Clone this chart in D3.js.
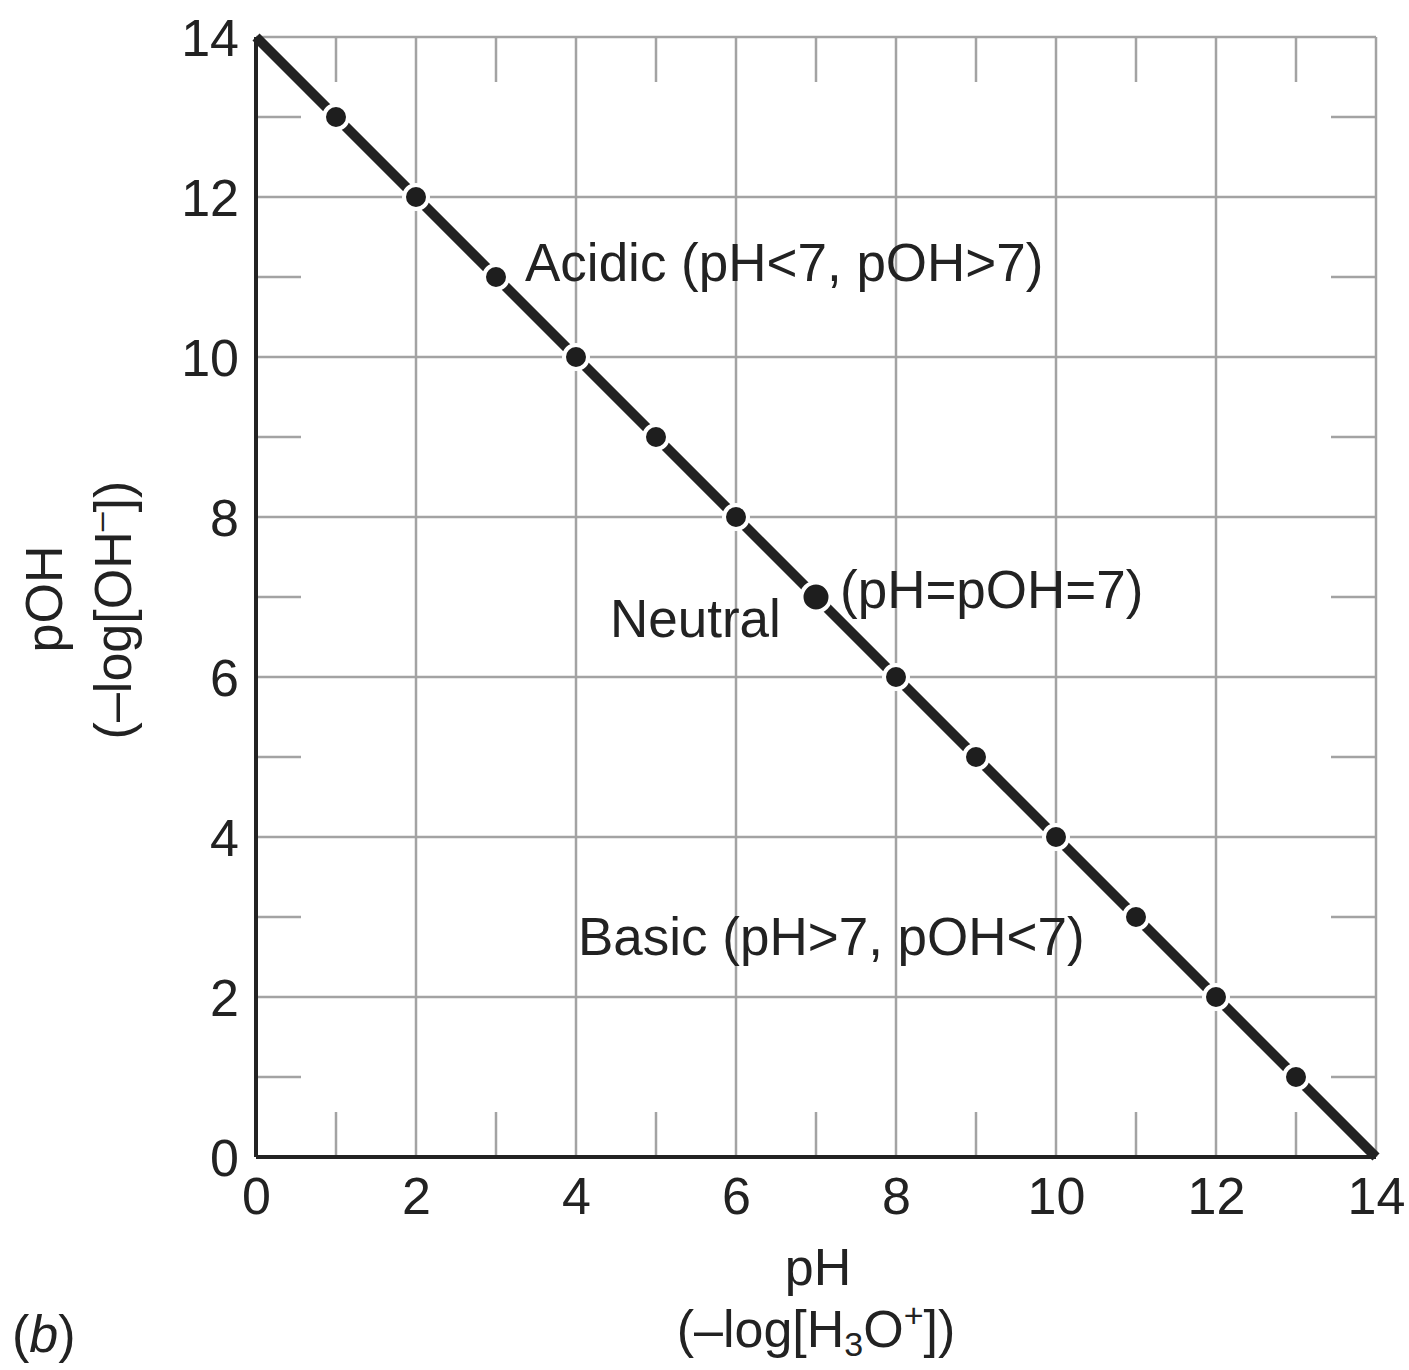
<!DOCTYPE html>
<html>
<head>
<meta charset="utf-8">
<script src="https://cdn.jsdelivr.net/npm/d3@7"></script>
<style>
  html, body { margin: 0; padding: 0; background: #fff; }
  svg { display: block; }
  text { font-family: "Liberation Sans", Arial, Helvetica, sans-serif; fill: #222; }
</style>
</head>
<body>
<svg id="chart" width="1409" height="1370"></svg>
<script>
// pH / pOH relationship
const phValues  = [0, 1, 2, 3, 4, 5, 6, 7, 8, 9, 10, 11, 12, 13, 14];
const pohValues = [14, 13, 12, 11, 10, 9, 8, 7, 6, 5, 4, 3, 2, 1, 0];
const dotPh     = [1, 2, 3, 4, 5, 6, 7, 8, 9, 10, 11, 12, 13];
const dotPoh    = [13, 12, 11, 10, 9, 8, 7, 6, 5, 4, 3, 2, 1];
const majorTicks = [0, 2, 4, 6, 8, 10, 12, 14];
const minorTicks = [1, 3, 5, 7, 9, 11, 13];
const neutralPh = 7;

const svg = d3.select('#chart');
const margin = {left: 256, top: 37, right: 33, bottom: 213};
const W = 1409 - margin.left - margin.right, H = 1370 - margin.top - margin.bottom;
const g = svg.append('g').attr('transform', `translate(${margin.left},${margin.top})`);

const x = d3.scaleLinear().domain([0, 14]).range([0, W]);
const y = d3.scaleLinear().domain([0, 14]).range([H, 0]);
const grid = '#a3a3a3';
const tickLen = 45;

// grid lines every 2 units
g.append('g').selectAll('line').data(majorTicks).enter().append('line')
  .attr('x1', d => x(d)).attr('x2', d => x(d)).attr('y1', 0).attr('y2', H)
  .attr('stroke', grid).attr('stroke-width', 2.5);
g.append('g').selectAll('line').data(majorTicks).enter().append('line')
  .attr('y1', d => y(d)).attr('y2', d => y(d)).attr('x1', 0).attr('x2', W)
  .attr('stroke', grid).attr('stroke-width', 2.5);

// short odd ticks on all four sides
const minor = g.append('g').attr('stroke', grid).attr('stroke-width', 2.5);
minorTicks.forEach(t => {
  minor.append('line').attr('x1', x(t)).attr('x2', x(t)).attr('y1', H).attr('y2', H - tickLen);
  minor.append('line').attr('x1', x(t)).attr('x2', x(t)).attr('y1', 0).attr('y2', tickLen);
  minor.append('line').attr('y1', y(t)).attr('y2', y(t)).attr('x1', 0).attr('x2', tickLen);
  minor.append('line').attr('y1', y(t)).attr('y2', y(t)).attr('x1', W).attr('x2', W - tickLen);
});

// left and bottom axes (black)
g.append('line').attr('x1', 0).attr('x2', 0).attr('y1', y(14)).attr('y2', y(0))
  .attr('stroke', '#222').attr('stroke-width', 4);
g.append('line').attr('x1', x(0)).attr('x2', x(14)).attr('y1', H).attr('y2', H)
  .attr('stroke', '#222').attr('stroke-width', 4);

// tick labels
const xAxis = g.append('g').attr('transform', `translate(0,${H})`)
  .call(d3.axisBottom(x).tickValues(majorTicks).tickSize(0).tickPadding(20).tickFormat(d3.format('d')));
const yAxis = g.append('g')
  .call(d3.axisLeft(y).tickValues(majorTicks).tickSize(0).tickPadding(17).tickFormat(d3.format('d')));
[xAxis, yAxis].forEach(a => {
  a.select('.domain').remove();
  a.selectAll('text').attr('font-size', 52).attr('fill', '#222')
    .attr('font-family', '"Liberation Sans", Arial, sans-serif');
});
xAxis.selectAll('text').attr('dy', '0.71em');
yAxis.selectAll('text').attr('dy', '0.36em');

// main line
const pts = phValues.map((p, i) => ({ph: p, poh: pohValues[i]}));
g.append('path').datum(pts)
  .attr('fill', 'none').attr('stroke', '#222').attr('stroke-width', 10)
  .attr('d', d3.line().x(d => x(d.ph)).y(d => y(d.poh)));

// dots with white halo
const dots = dotPh.map((p, i) => ({ph: p, poh: dotPoh[i]}));
g.append('g').selectAll('circle').data(dots).enter().append('circle')
  .attr('cx', d => x(d.ph)).attr('cy', d => y(d.poh))
  .attr('r', d => d.ph === neutralPh ? 14.5 : 12)
  .attr('fill', '#1e1e1e').attr('stroke', '#fff').attr('stroke-width', 4);

// annotations
const ann = svg.append('g').attr('font-size', 53);
ann.append('text').attr('x', 525).attr('y', 281).text('Acidic (pH<7, pOH>7)');
ann.append('text').attr('x', 610).attr('y', 637).text('Neutral');
ann.append('text').attr('x', 840).attr('y', 608).text('(pH=pOH=7)');
ann.append('text').attr('x', 578).attr('y', 955).text('Basic (pH>7, pOH<7)');

// x axis title
const xt = svg.append('g').attr('font-size', 52).attr('text-anchor', 'middle');
xt.append('text').attr('x', 818).attr('y', 1285).text('pH');
const xt2 = xt.append('text').attr('x', 816).attr('y', 1347);
xt2.append('tspan').text('(\u2013log[H');
xt2.append('tspan').attr('font-size', 34).attr('dy', 9).text('3');
xt2.append('tspan').attr('dy', -9).text('O');
xt2.append('tspan').attr('font-size', 34).attr('dy', -20).text('+');
xt2.append('tspan').attr('dy', 20).text('])');

// y axis title
const yt = svg.append('g').attr('font-size', 52).attr('text-anchor', 'middle');
yt.append('text').attr('transform', 'translate(62,599) rotate(-90)').text('pOH');
const yt2 = yt.append('text').attr('transform', 'translate(131,610) rotate(-90)');
yt2.append('tspan').text('(\u2013log[OH');
yt2.append('tspan').attr('font-size', 34).attr('dy', -20).text('\u2013');
yt2.append('tspan').attr('dy', 20).text('])');

// panel label
const lbl = svg.append('text').attr('x', 12).attr('y', 1352).attr('font-size', 52)
  .attr('font-family', '"Liberation Serif", "DejaVu Serif", serif');
lbl.append('tspan').text('(');
lbl.append('tspan').attr('font-style', 'italic').text('b');
lbl.append('tspan').text(')');
</script>
</body>
</html>
